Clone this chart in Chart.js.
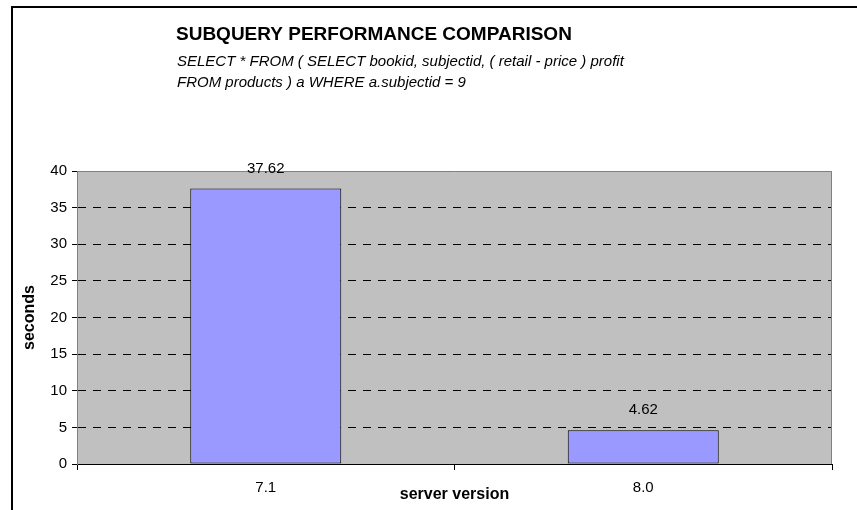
<!DOCTYPE html>
<html>
<head>
<meta charset="utf-8">
<script src="https://cdn.jsdelivr.net/npm/chart.js@4.4.1/dist/chart.umd.min.js"></script>
<style>
    html, body { margin: 0; padding: 0; background: #fff; }
    #chartBox { width: 857px; height: 510px; }
</style>
</head>
<body>
<div id="chartBox"><canvas id="perfChart" width="857" height="510"></canvas></div>
<script>
// dữ liệu biểu đồ
const versions = ['7.1', '8.0'];
const seconds = [37.62, 4.62];
const yTicks = [0, 5, 10, 15, 20, 25, 30, 35, 40];

const chartTitle = 'SUBQUERY PERFORMANCE COMPARISON';
const queryLines = [
    'SELECT * FROM ( SELECT bookid, subjectid, ( retail - price ) profit',
    'FROM products ) a WHERE a.subjectid = 9'
];
const xTitle = 'server version';
const yTitle = 'seconds';

const FONT = 'Arial, "Liberation Sans", sans-serif';

// nền xám + khung ngoài
const plotBackground = {
    id: 'plotBackground',
    beforeDraw(chart) {
        const { ctx, chartArea: a } = chart;
        ctx.save();
        ctx.fillStyle = '#fff';
        ctx.fillRect(0, 0, chart.width, chart.height);

        // khung ngoài (bị cắt bên phải và dưới)
        ctx.strokeStyle = '#000';
        ctx.lineWidth = 2;
        ctx.beginPath();
        ctx.moveTo(12, chart.height);
        ctx.lineTo(12, 7);
        ctx.lineTo(chart.width, 7);
        ctx.stroke();

        ctx.fillStyle = '#C0C0C0';
        ctx.fillRect(a.left, a.top, a.right - a.left, a.bottom - a.top);
        ctx.restore();
    },
    beforeDatasetsDraw(chart) {
        const { ctx, chartArea: a } = chart;
        ctx.save();
        ctx.strokeStyle = '#808080';
        ctx.lineWidth = 1;
        ctx.beginPath();
        ctx.moveTo(a.left + 0.5, a.bottom);
        ctx.lineTo(a.left + 0.5, a.top + 0.5);
        ctx.lineTo(a.right - 0.5, a.top + 0.5);
        ctx.lineTo(a.right - 0.5, a.bottom);
        ctx.stroke();
        ctx.restore();
    }
};

// nhãn giá trị trên cột
const valueLabels = {
    id: 'valueLabels',
    afterDatasetsDraw(chart) {
        const { ctx } = chart;
        const meta = chart.getDatasetMeta(0);
        ctx.save();
        ctx.font = '15px ' + FONT;
        ctx.fillStyle = '#000';
        ctx.textAlign = 'center';
        ctx.textBaseline = 'middle';
        meta.data.forEach((bar, i) => {
            ctx.fillText(seconds[i].toFixed(2), bar.x, bar.y - 20);
        });
        ctx.restore();
    }
};

// tiêu đề và nhãn trục
const freeText = {
    id: 'freeText',
    afterDraw(chart) {
        const { ctx, chartArea: a } = chart;
        ctx.save();
        ctx.fillStyle = '#000';
        ctx.textBaseline = 'middle';

        ctx.textAlign = 'left';
        ctx.font = 'bold 19px ' + FONT;
        ctx.fillText(chartTitle, 176, 35);

        ctx.font = 'italic 15px ' + FONT;
        queryLines.forEach((line, i) => {
            ctx.fillText(line, 177, 62 + i * 21);
        });

        ctx.textAlign = 'center';
        ctx.font = 'bold 16px ' + FONT;
        ctx.fillText(xTitle, (a.left + a.right) / 2, 495);

        ctx.translate(30, (a.top + a.bottom) / 2);
        ctx.rotate(-Math.PI / 2);
        ctx.fillText(yTitle, 0, 0);
        ctx.restore();
    }
};

new Chart(document.getElementById('perfChart'), {
    type: 'bar',
    data: {
        labels: versions,
        datasets: [{
            data: seconds,
            backgroundColor: '#9999FF',
            borderColor: '#000',
            borderWidth: 1,
            borderSkipped: false,
            barPercentage: 0.4,
            categoryPercentage: 1
        }]
    },
    options: {
        responsive: false,
        animation: false,
        devicePixelRatio: 1,
        layout: { padding: { left: 18, right: 25, top: 171, bottom: 0 } },
        plugins: {
            legend: { display: false },
            tooltip: { enabled: false }
        },
        scales: {
            x: {
                type: 'category',
                afterFit: s => { s.height = 46; },
                grid: {
                    offset: true,
                    drawOnChartArea: false,
                    tickLength: 6,
                    tickColor: '#000'
                },
                border: { color: '#000', width: 1 },
                ticks: {
                    color: '#000',
                    padding: 9,
                    font: { family: FONT, size: 15 }
                }
            },
            y: {
                min: yTicks[0],
                max: yTicks[yTicks.length - 1],
                afterFit: s => { s.width = 59; },
                afterBuildTicks: s => { s.ticks = yTicks.map(v => ({ value: v })); },
                grid: {
                    color: c => (c.tick && (c.tick.value === 0 || c.tick.value === 40)) ? 'rgba(0,0,0,0)' : '#000',
                    tickLength: 5,
                    tickColor: '#000',
                    lineWidth: 1
                },
                border: { color: '#808080', width: 1, dash: [8, 7] },
                ticks: {
                    color: '#000',
                    padding: 5,
                    font: { family: FONT, size: 15 }
                }
            }
        }
    },
    plugins: [plotBackground, valueLabels, freeText]
});
</script>
</body>
</html>
